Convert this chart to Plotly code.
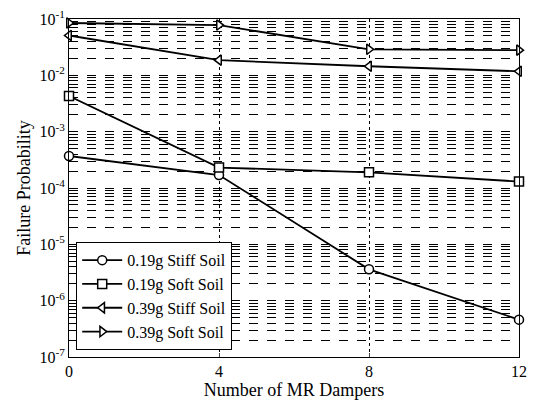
import plotly.graph_objects as go

dampers = [0, 4, 8, 12]
stiff_019 = [3.7e-4, 1.7e-4, 3.6e-6, 4.6e-7]
soft_019 = [4.3e-3, 2.3e-4, 1.9e-4, 1.3e-4]
stiff_039 = [0.051, 0.0186, 0.0145, 0.0118]
soft_039 = [0.085, 0.078, 0.029, 0.028]
names = ["0.19g Stiff Soil", "0.19g Soft Soil", "0.39g Stiff Soil", "0.39g Soft Soil"]
symbols = ["circle", "square", "triangle-left", "triangle-right"]
series = [stiff_019, soft_019, stiff_039, soft_039]

exps = [-7, -6, -5, -4, -3, -2, -1]
ytickvals = [10.0 ** e for e in exps]
yticktext = [f"10<sup>{e}</sup>" for e in exps]

fig = go.Figure()
for name, sym, ys in zip(names, symbols, series):
    fig.add_trace(go.Scatter(
        x=dampers, y=ys, name=name, mode="lines+markers",
        line=dict(color="black", width=1.8),
        marker=dict(symbol=sym, size=9, color="white",
                    line=dict(color="black", width=1.5)),
        cliponaxis=False,
    ))

tickfont = dict(family="Liberation Serif", size=16, color="black")
titlefont = dict(family="Liberation Serif", size=18, color="black")
fig.update_layout(
    width=538, height=400,
    margin=dict(l=69, r=19, t=19, b=43),
    paper_bgcolor="white", plot_bgcolor="white",
    font=titlefont,
    showlegend=True,
    legend=dict(x=0.016, y=0.02, xanchor="left", yanchor="bottom",
                bgcolor="white", bordercolor="black", borderwidth=1,
                font=dict(family="Liberation Serif", size=16, color="black"),
                tracegroupgap=0, itemwidth=40),
    xaxis=dict(
        title=dict(text="Number of MR Dampers", font=titlefont, standoff=0),
        range=[0, 12], tickvals=dampers, ticktext=[str(d) for d in dampers],
        tickfont=tickfont, ticklabeloverflow="allow", automargin=False,
        showgrid=True, gridcolor="black", griddash="dot", gridwidth=0.8,
        showline=True, mirror=True, linecolor="black", linewidth=1,
        ticks="inside", ticklen=4, zeroline=False,
    ),
    yaxis=dict(
        title=dict(text="Failure Probability", font=titlefont, standoff=4),
        type="log", range=[-7, -1], tickvals=ytickvals, ticktext=yticktext,
        tickfont=tickfont, ticklabeloverflow="allow", automargin=False,
        showgrid=True, gridcolor="black", griddash="dash", gridwidth=0.6,
        minor=dict(dtick="D1", showgrid=True, gridcolor="black", griddash="dash", gridwidth=0.6, ticks=""),
        showline=True, mirror=True, linecolor="black", linewidth=1,
        ticks="", zeroline=False,
    ),
)
fig.write_html("out.html", post_script="document.body.style.margin='0';",
               config={"displayModeBar": False})
